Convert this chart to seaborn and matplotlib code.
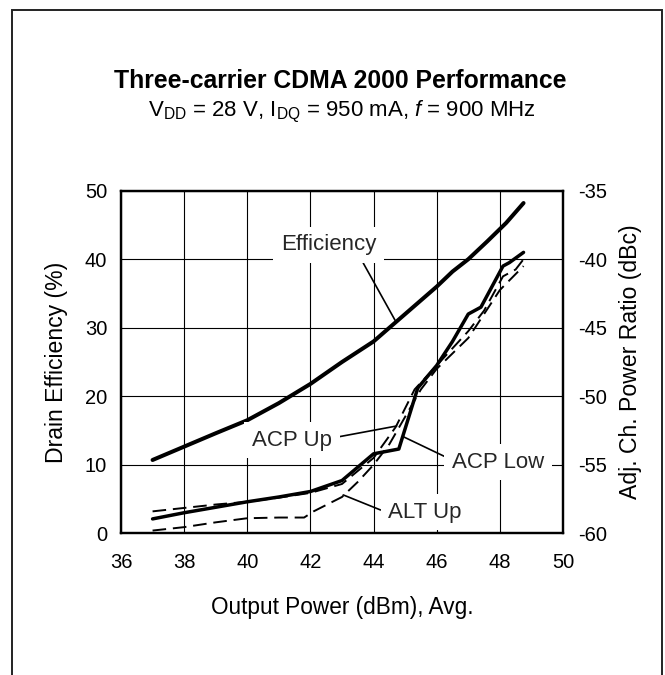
import matplotlib
matplotlib.use("Agg")
import matplotlib.pyplot as plt
import seaborn as sns
import pandas as pd
from matplotlib.patches import Rectangle

# ---------------- data ----------------
pout_eff = [37, 38, 39, 40, 41, 42, 43, 44, 45, 46, 46.5, 47, 47.6, 48.2, 48.75]
efficiency = [10.7, 12.65, 14.6, 16.5, 19.0, 21.8, 25.0, 28.0, 32.0, 36.0, 38.2, 40.0, 42.6, 45.3, 48.2]

pout_acp_low = [37, 38, 39, 40, 41, 42, 43, 44, 44.8, 45.4, 46, 46.5, 47, 47.4, 48.1, 48.3, 48.75]
acp_low = [-58.95, -58.5, -58.1, -57.7, -57.35, -56.95, -56.15, -54.2, -53.85,
           -49.4, -47.75, -46.0, -44.0, -43.5, -40.5, -40.25, -39.5]

pout_acp_up = [37, 38, 39, 40, 41, 42, 43, 44, 44.7, 45.3, 46, 47, 47.5, 48.1, 48.5, 48.75]
acp_up = [-58.4, -58.15, -57.9, -57.7, -57.4, -57.05, -56.4, -54.5, -52.25,
          -49.5, -47.75, -45.25, -43.75, -41.25, -40.75, -40.0]

pout_alt_up = [37, 38, 39, 40, 41, 41.8, 42.1, 43, 43.5, 44, 44.5, 45, 45.5, 46, 47, 48, 48.75]
alt_up = [-59.8, -59.55, -59.2, -58.9, -58.85, -58.85, -58.4, -57.35, -56.25,
          -55.0, -53.5, -51.5, -49.5, -48.0, -45.75, -42.25, -40.5]

x_ticks = [36, 38, 40, 42, 44, 46, 48, 50]
y_left_ticks = [0, 10, 20, 30, 40, 50]
y_right_ticks = [-60, -55, -50, -45, -40, -35]

title = "Three-carrier CDMA 2000 Performance"
subtitle = r"V$_{\mathrm{DD}}$ = 28 V, I$_{\mathrm{DQ}}$ = 950 mA, $f$ = 900 MHz"
xlabel = "Output Power (dBm), Avg."
ylabel_left = "Drain Efficiency (%)"
ylabel_right = "Adj. Ch. Power Ratio (dBc)"

# ---------------- style ----------------
sns.set_theme(style="white")
plt.rcParams['font.family'] = ['Liberation Sans', 'DejaVu Sans']
plt.rcParams['mathtext.fontset'] = 'custom'
plt.rcParams['mathtext.rm'] = 'Liberation Sans'
plt.rcParams['mathtext.it'] = 'Liberation Sans:italic'
plt.rcParams['mathtext.bf'] = 'Liberation Sans:bold'

W, H = 665, 675
fig = plt.figure(figsize=(W / 100, H / 100), dpi=100)
L, R, T, B = 121, 563, 190.7, 533.3
ax = fig.add_axes([L / W, 1 - B / H, (R - L) / W, (B - T) / H])
ax2 = ax.twinx()
ax2.patch.set_visible(False)

df_eff = pd.DataFrame({"pout": pout_eff, "val": efficiency})
df_low = pd.DataFrame({"pout": pout_acp_low, "val": acp_low})
df_up = pd.DataFrame({"pout": pout_acp_up, "val": acp_up})
df_alt = pd.DataFrame({"pout": pout_alt_up, "val": alt_up})

sns.lineplot(data=df_eff, x="pout", y="val", ax=ax, color="black", lw=2.9,
             estimator=None, sort=False)
sns.lineplot(data=df_alt, x="pout", y="val", ax=ax2, color="black", lw=1.4,
             estimator=None, sort=False, linestyle=(0, (7, 3.5)))
sns.lineplot(data=df_up, x="pout", y="val", ax=ax2, color="black", lw=1.4,
             estimator=None, sort=False, linestyle=(0, (7, 3.5)))
sns.lineplot(data=df_low, x="pout", y="val", ax=ax2, color="black", lw=2.5,
             estimator=None, sort=False)

ax.set_xlim(36, 50)
ax.set_ylim(0, 50)
ax2.set_ylim(-60, -35)
ax.set_xticks(x_ticks)
ax.set_yticks(y_left_ticks)
ax2.set_yticks(y_right_ticks)
ax.set_xticklabels([str(v) for v in x_ticks])
ax.set_yticklabels([str(v) for v in y_left_ticks])
ax2.set_yticklabels([str(v) for v in y_right_ticks])

ax.grid(True, color="black", lw=0.8)
ax.set_axisbelow(True)
ax2.grid(False)
for a in (ax, ax2):
    for s in a.spines.values():
        s.set_color("black")
        s.set_linewidth(1.6)
        s.set_visible(True)
ax.tick_params(axis="x", length=0, labelsize=14.5, pad=14, colors="black")
ax.tick_params(axis="y", length=0, labelsize=14.5, pad=10, colors="black")
ax2.tick_params(axis="y", length=0, labelsize=14.5, pad=11, colors="black")

ax.set_xlabel(xlabel, fontsize=16.3, color="black")
ax.set_ylabel(ylabel_left, fontsize=16.6, color="black")
ax2.set_ylabel(ylabel_right, fontsize=16.6, color="black")
ax.xaxis.set_label_coords((342 - L) / (R - L), -(596 - B) / (B - T))
ax.yaxis.set_label_coords((68 - L) / (R - L), 0.5)
ax2.yaxis.set_label_coords((619 - L) / (R - L), 0.5)

# ---------------- annotations ----------------
bb = dict(boxstyle="square,pad=0.35", fc="white", ec="none")
ap = dict(arrowstyle="-", color="black", lw=1.2, shrinkA=0, shrinkB=0)
ax.annotate("Efficiency", xy=(44.68, 31.1), xytext=(42.57, 42.1), ha="center", va="center",
            fontsize=16, bbox=bb, arrowprops=dict(ap, relpos=(0.82, 0.0)), zorder=5)
ax2.annotate("ACP Up", xy=(44.73, -52.17), xytext=(41.42, -53.2), ha="center", va="center",
             fontsize=16, bbox=bb, arrowprops=dict(ap, relpos=(1.0, 0.6)), zorder=5)
ax2.annotate("ACP Low", xy=(44.94, -52.95), xytext=(47.94, -54.8), ha="center", va="center",
             fontsize=16, bbox=bb, arrowprops=dict(ap, relpos=(0.0, 0.6)), zorder=5)
ax2.annotate("ALT Up", xy=(43.04, -57.2), xytext=(45.63, -58.45), ha="center", va="center",
             fontsize=16, bbox=bb, arrowprops=dict(ap, relpos=(0.0, 0.45)), zorder=5)

# ---------------- titles & frame ----------------
fig.text(340 / W, 1 - 88 / H, title, ha="center", va="baseline", fontsize=17.8,
         fontweight="bold", color="black")
fig.text(342 / W, 1 - 116 / H, subtitle, ha="center", va="baseline", fontsize=16,
         color="black")
fig.patches.append(Rectangle((12 / W, -0.1), (662 - 12) / W, 1.1 - 10 / H,
                             transform=fig.transFigure, fill=False, ec="#222222", lw=1.4))

fig.savefig("out.png", dpi=100)
